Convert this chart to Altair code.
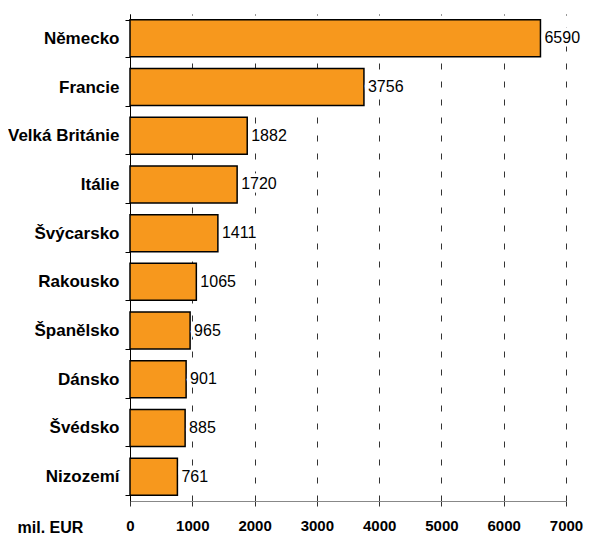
import altair as alt
import pandas as pd

countries = ["Německo", "Francie", "Velká Británie", "Itálie", "Švýcarsko",
             "Rakousko", "Španělsko", "Dánsko", "Švédsko", "Nizozemí"]
values = [6590, 3756, 1882, 1720, 1411, 1065, 965, 901, 885, 761]
x_ticks = [0, 1000, 2000, 3000, 4000, 5000, 6000, 7000]

df = pd.DataFrame({"country": countries, "value": values})

FONT = "Liberation Sans, Arial, sans-serif"

y_enc = alt.Y(
    "country:N",
    sort=countries,
    scale=alt.Scale(paddingInner=0.24, paddingOuter=0.12),
    axis=alt.Axis(
        title=None,
        tickBand="extent",
        domainColor="black",
        tickColor="black",
        tickSize=5,
        labelFont=FONT,
        labelFontSize=17,
        labelFontWeight="bold",
        labelColor="black",
        labelPadding=6,
    ),
)

x_enc = alt.X(
    "value:Q",
    scale=alt.Scale(domain=[0, 7000], nice=False),
    axis=alt.Axis(
        values=x_ticks,
        format="d",
        grid=True,
        gridDash=[6, 12],
        gridColor="#333333",
        domainColor="#888888",
        tickColor="#333333",
        tickSize=5,
        labelFont=FONT,
        labelFontSize=15,
        labelFontWeight="bold",
        labelColor="black",
        labelPadding=12,
        labelFlush=False,
        title="mil. EUR",
        titleFont=FONT,
        titleFontSize=16,
        titleFontWeight="bold",
        titleColor="black",
        titleX=-80,
        titleY=26,
        titleAlign="center",
        titleBaseline="middle",
    ),
)

base = alt.Chart(df).encode(x=x_enc, y=y_enc)

bars = base.mark_bar(fill="#F7981D", stroke="black", strokeWidth=1.5)

halo = base.mark_text(
    align="left", baseline="middle", dx=4, fontSize=16, font=FONT,
    color="white", stroke="white", strokeWidth=7
).encode(text=alt.Text("value:Q", format="d"))

labels = base.mark_text(
    align="left", baseline="middle", dx=4, fontSize=16, font=FONT, color="black"
).encode(text=alt.Text("value:Q", format="d"))

chart = (
    alt.layer(bars, halo, labels)
    .properties(
        width=436,
        height=487,
        autosize=alt.AutoSizeParams(type="none"),
        padding={"left": 122, "top": 6, "right": 18, "bottom": 39},
        background="white",
    )
    .configure_view(stroke=None)
)

chart.save("out.html", embed_options={"renderer": "svg", "actions": False})
